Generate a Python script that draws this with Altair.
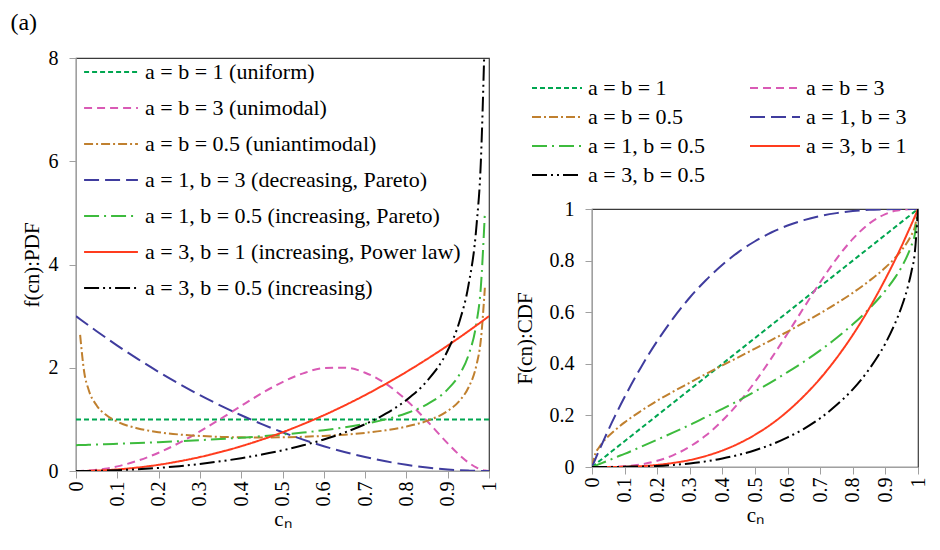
import altair as alt
import pandas as pd

# x positions (c_n) at which the curves were read
x_vals = [0, 0.01, 0.02, 0.03, 0.05, 0.07, 0.1, 0.15, 0.2, 0.25, 0.3, 0.35, 0.4, 0.45,
          0.5, 0.55, 0.6, 0.65, 0.7, 0.75, 0.8, 0.85, 0.9, 0.93, 0.95, 0.97, 0.98, 0.99, 1]

# PDF values (left)
pdf_ab1 = [1, 1, 1, 1, 1, 1, 1, 1, 1, 1, 1, 1, 1, 1, 1, 1, 1, 1, 1, 1, 1, 1, 1, 1, 1, 1, 1, 1, 1]
pdf_ab3 = [0, 0.001, 0.004, 0.008, 0.022, 0.044, 0.090, 0.201, 0.354, 0.545, 0.767, 1.010, 1.262, 1.506,
           1.723, 1.892, 1.992, 2.001, 1.904, 1.692, 1.372, 0.968, 0.535, 0.298, 0.165, 0.065, 0.030, 0.008, 0]
pdf_ab05 = [None, 2.635, 1.908, 1.587, 1.269, 1.102, 0.956, 0.825, 0.752, 0.707, 0.679, 0.661, 0.652, 0.650,
            0.653, 0.663, 0.680, 0.704, 0.739, 0.789, 0.860, 0.971, 1.163, 1.373, 1.612, 2.065, 2.519, 3.550, None]
pdf_a1b3 = [3, 2.940, 2.881, 2.823, 2.708, 2.595, 2.430, 2.168, 1.920, 1.688, 1.470, 1.268, 1.080, 0.908,
            0.750, 0.608, 0.480, 0.368, 0.270, 0.188, 0.120, 0.068, 0.030, 0.015, 0.008, 0.003, 0.001, 0.000, 0]
pdf_a1b05 = [0.5, 0.503, 0.505, 0.508, 0.513, 0.518, 0.527, 0.542, 0.559, 0.577, 0.598, 0.620, 0.645, 0.674,
             0.707, 0.745, 0.791, 0.845, 0.913, 1.000, 1.118, 1.291, 1.581, 1.890, 2.236, 2.887, 3.536, 5.000, None]
pdf_a3b1 = [0, 0.000, 0.001, 0.003, 0.008, 0.015, 0.030, 0.068, 0.120, 0.188, 0.270, 0.368, 0.480, 0.608,
            0.750, 0.908, 1.080, 1.268, 1.470, 1.688, 1.920, 2.168, 2.430, 2.595, 2.708, 2.823, 2.881, 2.940, 3]
pdf_a3b05 = [0, 0.000, 0.001, 0.001, 0.004, 0.007, 0.015, 0.034, 0.060, 0.094, 0.137, 0.188, 0.248, 0.319,
             0.401, 0.497, 0.610, 0.744, 0.907, 1.110, 1.374, 1.745, 2.334, 2.933, 3.585, 4.776, 5.941, 8.531, None]

# CDF values (right)
cdf_ab1 = [0, 0.01, 0.02, 0.03, 0.05, 0.07, 0.1, 0.15, 0.2, 0.25, 0.3, 0.35, 0.4, 0.45,
           0.5, 0.55, 0.6, 0.65, 0.7, 0.75, 0.8, 0.85, 0.9, 0.93, 0.95, 0.97, 0.98, 0.99, 1]
cdf_ab3 = [0, 0.000, 0.000, 0.000, 0.000, 0.001, 0.003, 0.010, 0.024, 0.046, 0.079, 0.123, 0.180, 0.249,
           0.330, 0.421, 0.518, 0.618, 0.716, 0.807, 0.884, 0.943, 0.980, 0.993, 0.997, 0.999, 1.000, 1.000, 1]
cdf_ab05 = [0, 0.051, 0.073, 0.091, 0.119, 0.142, 0.173, 0.217, 0.257, 0.293, 0.327, 0.361, 0.394, 0.426,
            0.459, 0.492, 0.525, 0.560, 0.596, 0.634, 0.675, 0.721, 0.773, 0.811, 0.841, 0.877, 0.900, 0.929, 1]
cdf_a1b3 = [0, 0.030, 0.059, 0.087, 0.143, 0.196, 0.271, 0.386, 0.488, 0.578, 0.657, 0.725, 0.784, 0.834,
            0.875, 0.909, 0.936, 0.957, 0.973, 0.984, 0.992, 0.997, 0.999, 1.000, 1.000, 1.000, 1.000, 1.000, 1]
cdf_a1b05 = [0, 0.005, 0.010, 0.015, 0.025, 0.036, 0.051, 0.078, 0.106, 0.134, 0.163, 0.194, 0.225, 0.258,
             0.293, 0.329, 0.368, 0.408, 0.452, 0.500, 0.553, 0.613, 0.684, 0.735, 0.776, 0.827, 0.859, 0.900, 1]
cdf_a3b1 = [0, 0.000, 0.000, 0.000, 0.000, 0.000, 0.001, 0.003, 0.008, 0.016, 0.027, 0.043, 0.064, 0.091,
            0.125, 0.166, 0.216, 0.275, 0.343, 0.422, 0.512, 0.614, 0.729, 0.804, 0.857, 0.913, 0.941, 0.970, 1]
cdf_a3b05 = [0, 0.000, 0.000, 0.000, 0.000, 0.000, 0.001, 0.002, 0.004, 0.008, 0.014, 0.022, 0.033, 0.047,
             0.065, 0.087, 0.115, 0.148, 0.189, 0.240, 0.301, 0.379, 0.479, 0.558, 0.622, 0.704, 0.758, 0.828, 1]

labels_pdf = ["a = b = 1 (uniform)", "a = b = 3 (unimodal)", "a = b = 0.5 (uniantimodal)",
              "a = 1, b = 3 (decreasing, Pareto)", "a = 1, b = 0.5 (increasing, Pareto)",
              "a = 3, b = 1 (increasing, Power law)", "a = 3, b = 0.5 (increasing)"]
labels_cdf = ["a = b = 1", "a = b = 3", "a = b = 0.5", "a = 1, b = 3",
              "a = 1, b = 0.5", "a = 3, b = 1", "a = 3, b = 0.5"]

x_ticks = [0, 0.1, 0.2, 0.3, 0.4, 0.5, 0.6, 0.7, 0.8, 0.9, 1]
pdf_ticks = [0, 2, 4, 6, 8]
cdf_ticks = [0, 0.2, 0.4, 0.6, 0.8, 1]

line_colors = ["#00a650", "#d95ab5", "#c0802f", "#3f3c9e", "#3dbb3d", "#ff3c1e", "#000000"]
line_dashes = [[5, 3], [8, 5], [9, 3, 2, 3], [15, 6], [15, 5, 2, 5], [1, 0], [15, 4, 2, 4, 2, 4]]

# the CDF legend is filled column by column: this order gives the two-column reading of the original
cdf_legend_order = [0, 2, 4, 6, 1, 3, 5]

FONT = "Liberation Serif"


def build(labels, series):
    rows = []
    for i, (lab, ys) in enumerate(zip(labels, series)):
        for xv, yv in zip(x_vals, ys):
            if yv is not None:
                rows.append({"x": xv, "y": yv, "series": lab, "k": i})
    return pd.DataFrame(rows)


pdf_df = build(labels_pdf, [pdf_ab1, pdf_ab3, pdf_ab05, pdf_a1b3, pdf_a1b05, pdf_a3b1, pdf_a3b05])
cdf_df = build(labels_cdf, [cdf_ab1, cdf_ab3, cdf_ab05, cdf_a1b3, cdf_a1b05, cdf_a3b1, cdf_a3b05])

cdf_domain = [labels_cdf[i] for i in cdf_legend_order]
cdf_colors = [line_colors[i] for i in cdf_legend_order]
cdf_dashes = [line_dashes[i] for i in cdf_legend_order]

leg_common = dict(title=None, symbolType="stroke", symbolStrokeWidth=2, labelFont=FONT,
                  labelColor="black", labelLimit=600, labelFontSize=22, padding=0, clipHeight=24)

left_legend = alt.Legend(orient="none", legendX=7, legendY=2, symbolSize=2900,
                         rowPadding=12, labelOffset=6, **leg_common)
right_legend = alt.Legend(orient="none", legendX=-61, legendY=18, columns=2,
                          columnPadding=43, symbolSize=2500, rowPadding=5,
                          labelOffset=5, **leg_common)

x_axis = dict(values=x_ticks, format="~g", labelAngle=270, labelFlush=False, labelPadding=3,
              title="cₙ", titlePadding=2)

left = alt.Chart(pdf_df).mark_line(strokeWidth=2, clip=True, interpolate="monotone").encode(
    x=alt.X("x:Q", scale=alt.Scale(domain=[0, 1], nice=False), axis=alt.Axis(**x_axis)),
    y=alt.Y("y:Q", scale=alt.Scale(domain=[0, 8], nice=False),
            axis=alt.Axis(values=pdf_ticks, title="f(cn):PDF", labelPadding=11, titlePadding=6)),
    color=alt.Color("series:N", sort=labels_pdf,
                    scale=alt.Scale(domain=labels_pdf, range=line_colors), legend=left_legend),
    strokeDash=alt.StrokeDash("series:N", sort=labels_pdf,
                              scale=alt.Scale(domain=labels_pdf, range=line_dashes), legend=left_legend),
).properties(width=413, height=413)

# legend panel above the CDF plot (no data drawn, only the legend of the series)
cdf_key = alt.Chart(cdf_df).transform_filter("datum.k < 0").mark_line(strokeWidth=2).encode(
    color=alt.Color("series:N", scale=alt.Scale(domain=cdf_domain, range=cdf_colors), legend=right_legend),
    strokeDash=alt.StrokeDash("series:N", scale=alt.Scale(domain=cdf_domain, range=cdf_dashes),
                              legend=right_legend),
).properties(width=326, height=130, view=alt.ViewBackground(strokeOpacity=0))

right = alt.Chart(cdf_df).mark_line(strokeWidth=2, clip=True, interpolate="monotone").encode(
    x=alt.X("x:Q", scale=alt.Scale(domain=[0, 1], nice=False), axis=alt.Axis(**x_axis)),
    y=alt.Y("y:Q", scale=alt.Scale(domain=[0, 1], nice=False),
            axis=alt.Axis(values=cdf_ticks, format="~g", title="F(cn):CDF", labelPadding=11, titlePadding=14)),
    color=alt.Color("series:N", scale=alt.Scale(domain=cdf_domain, range=cdf_colors), legend=None),
    strokeDash=alt.StrokeDash("series:N", scale=alt.Scale(domain=cdf_domain, range=cdf_dashes), legend=None),
).properties(width=326, height=258)

right_col = alt.vconcat(cdf_key, right, spacing=10).resolve_scale(
    color="independent", strokeDash="independent")

chart = alt.hconcat(left, right_col, spacing=13).resolve_scale(
    color="independent", strokeDash="independent"
).properties(
    title=alt.Title("(a)", anchor="start", fontSize=24, font=FONT, fontWeight="normal",
                    color="black", offset=12, dx=-10),
    padding={"left": 2, "top": 3, "right": 0, "bottom": 0},
).configure_view(
    stroke="#3a3a3a", strokeWidth=1.2
).configure_axis(
    labelFont=FONT, labelFontSize=20, labelColor="black",
    titleFont=FONT, titleFontSize=21, titleFontWeight="normal", titleColor="black",
    domainColor="#a0a0a0", tickColor="#a0a0a0", tickSize=7, grid=False
)

chart.save("out.html", embed_options={"renderer": "svg", "actions": False})
